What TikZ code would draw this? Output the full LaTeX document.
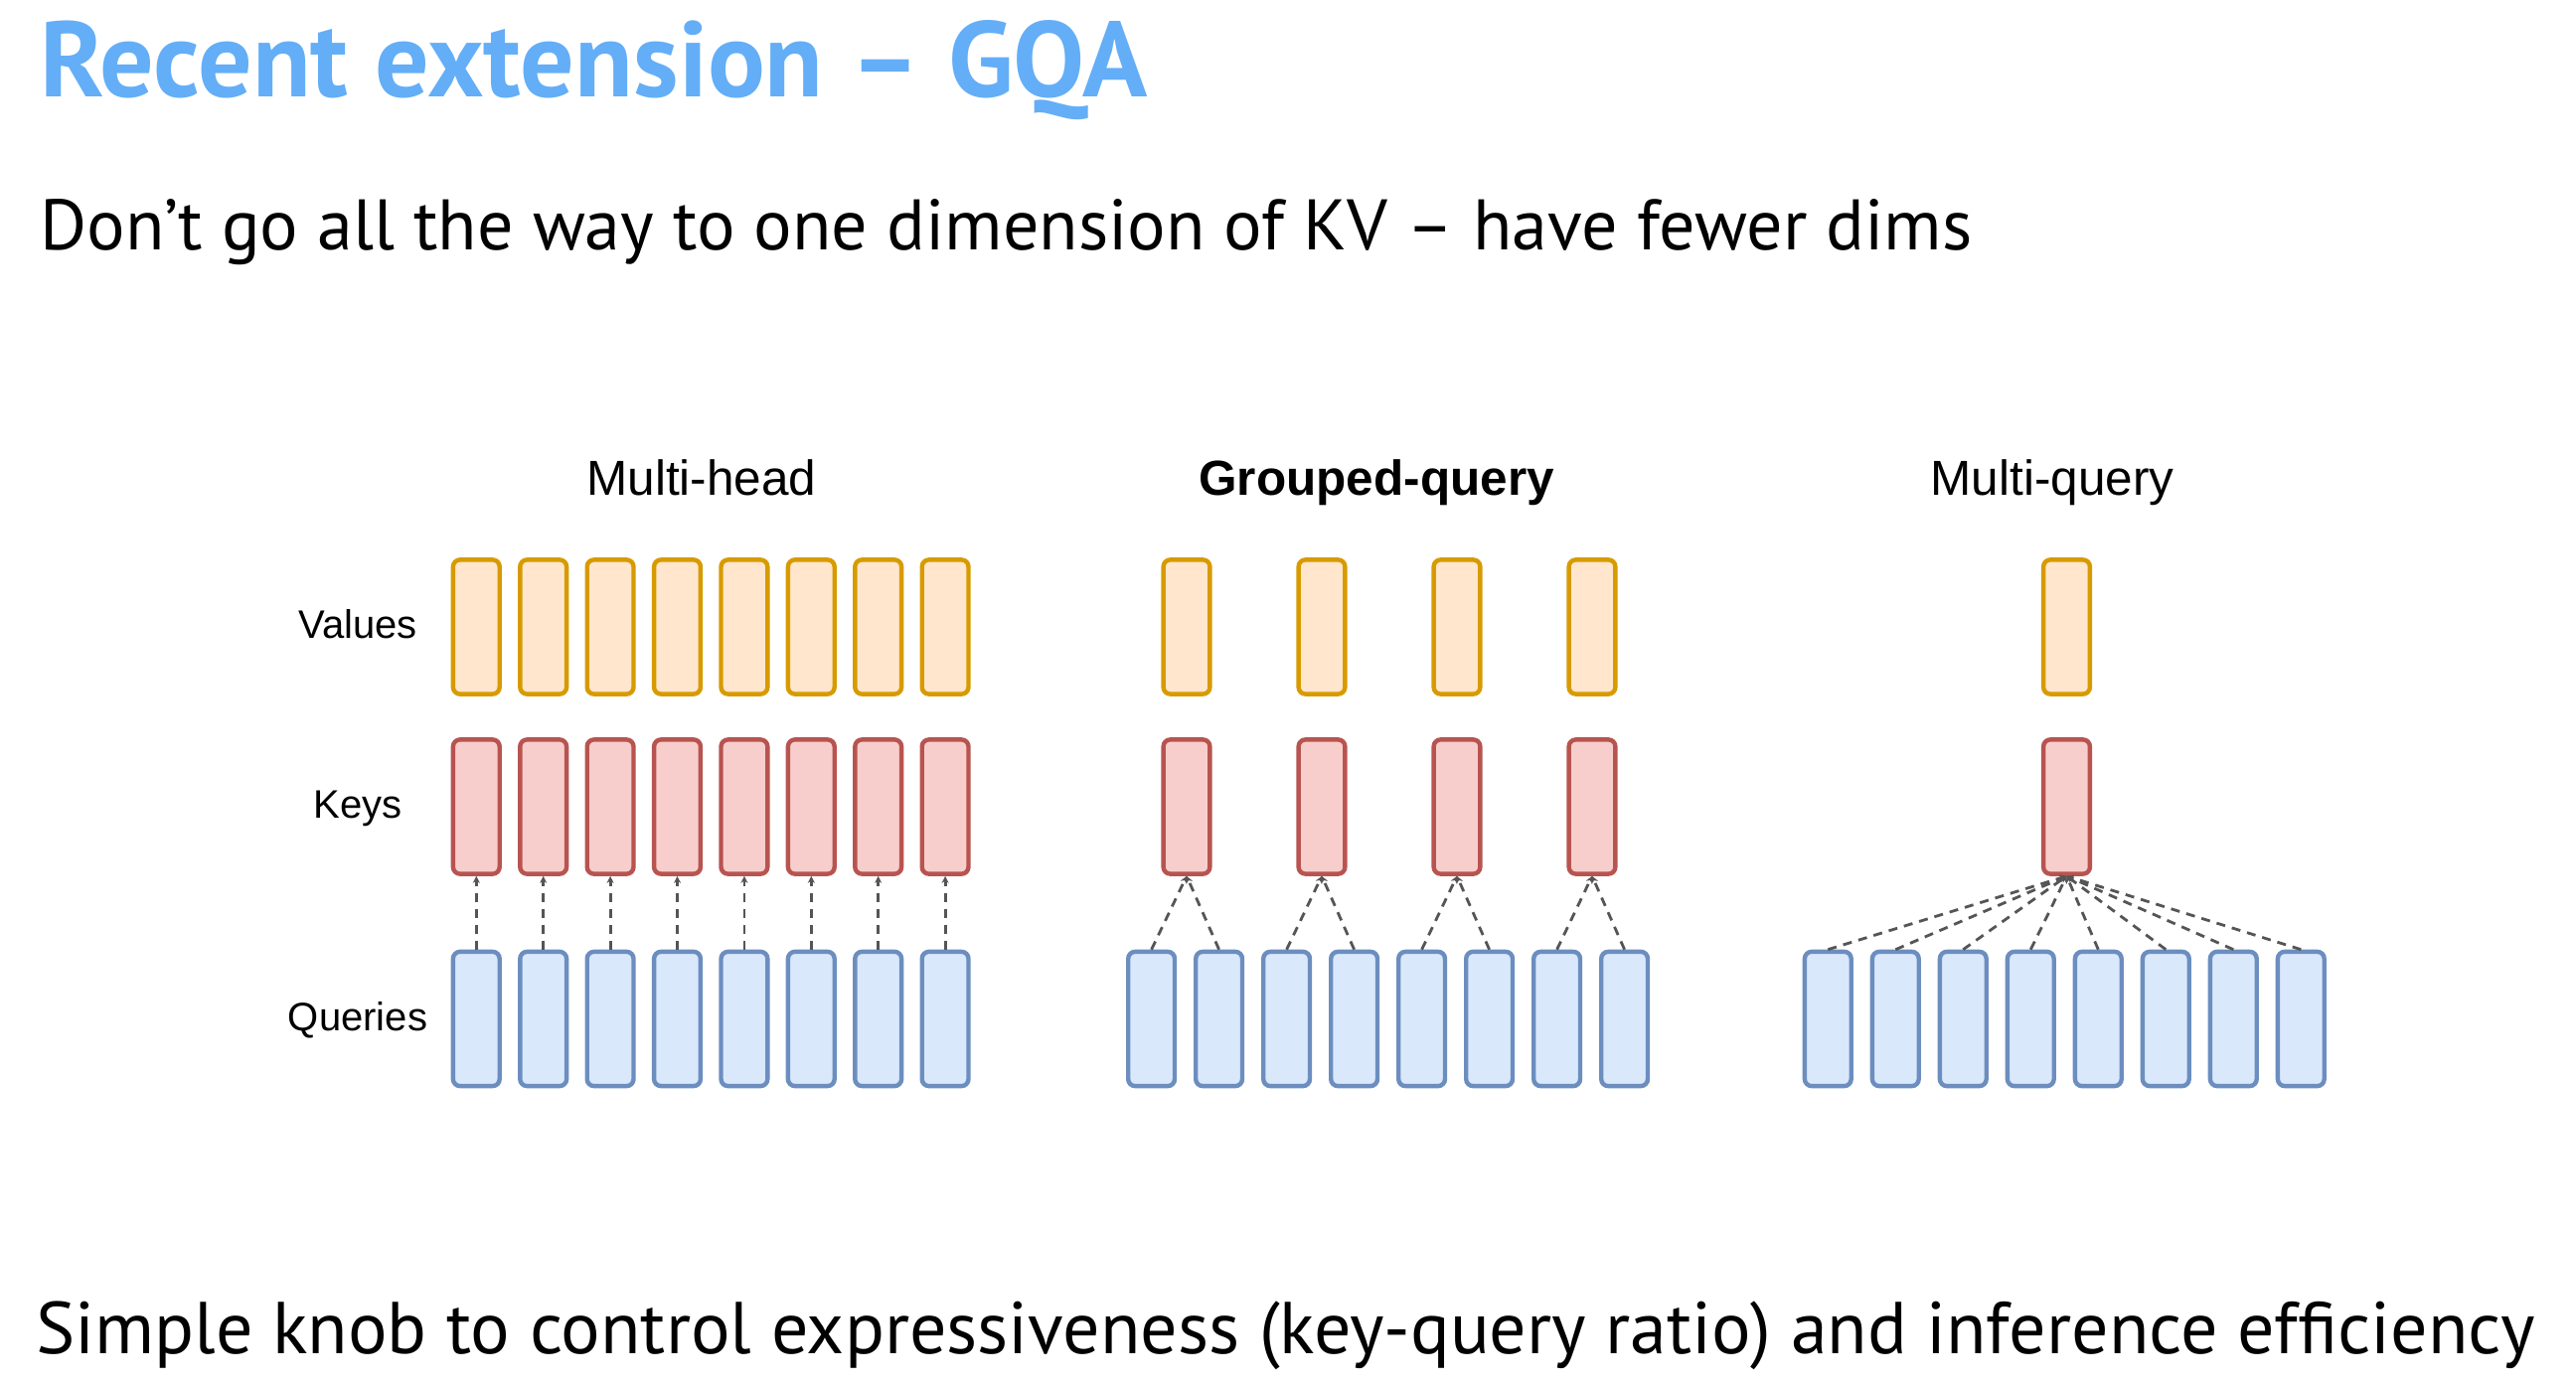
\documentclass[tikz,border=0pt]{standalone}
\usepackage{fontspec}
\usepackage{graphicx}
\setmainfont{PT Sans}
\newfontfamily\slidefont{PT Sans}
\newfontfamily\diagfont{Liberation Sans}
\usetikzlibrary{arrows.meta}
\definecolor{titleblue}{RGB}{99,174,247}
\definecolor{vfill}{HTML}{FFE6CC}
\definecolor{vdraw}{HTML}{D79B00}
\definecolor{kfill}{HTML}{F8CECC}
\definecolor{kdraw}{HTML}{B85450}
\definecolor{qfill}{HTML}{DAE8FC}
\definecolor{qdraw}{HTML}{6C8EBF}
\definecolor{linkgray}{HTML}{555555}
\tikzset{
  cell/.style={rectangle, rounded corners=3.5pt, line width=2.2pt, inner sep=0pt,
    minimum width=23.4pt, minimum height=67.6pt},
  vbox/.style={cell, draw=vdraw, fill=vfill},
  kbox/.style={cell, draw=kdraw, fill=kfill},
  qbox/.style={cell, draw=qdraw, fill=qfill},
  link/.style={draw=linkgray, line width=1.4pt, dash pattern=on 4.5pt off 3.5pt,
    -{Stealth[length=3.5pt,width=3.5pt]}},
  rowlabel/.style={font=\diagfont\fontsize{20}{24}\selectfont, text=black, inner sep=0pt, anchor=base},
  headlabel/.style={font=\diagfont\fontsize{24.75}{30}\selectfont, text=black, inner sep=0pt, anchor=base},
  slidetext/.style={inner sep=0pt, anchor=base west}
}
\begin{document}
\begin{tikzpicture}[x=0.5pt,y=-0.5pt]
\useasboundingbox[fill=white] (0,0) rectangle (2592,1392);
% texts
\node[slidetext, text=titleblue] (title) at (40,97)
  {\resizebox{557pt}{!}{\slidefont\bfseries\fontsize{52}{60}\selectfont Recent extension – GQA}};
\node[slidetext] (sub) at (40,251)
  {\resizebox{972pt}{!}{\slidefont\fontsize{35}{42}\selectfont Don’t go all the way to one dimension of KV – have fewer dims}};
\node[slidetext] (bottom) at (36,1362)
  {\resizebox{1257pt}{!}{\slidefont\fontsize{34.5}{42}\selectfont Simple knob to control expressiveness (key-query ratio) and inference efficiency}};
% headings
\node[headlabel] (hmh) at (706,498) {Multi-head};
\node[headlabel] (hgq) at (1385,498) {\bfseries Grouped-query};
\node[headlabel] (hmq) at (2065,498) {Multi-query};
% row labels
\node[rowlabel] (lv) at (360,642) {Values};
\node[rowlabel] (lk) at (360,823) {Keys};
\node[rowlabel] (lq) at (360,1037) {Queries};
% multi-head
\foreach \i in {0,...,7}{
  \pgfmathsetmacro{\cx}{479.3+67.4*\i}
  \node[vbox] (mhv\i) at (\cx,631) {};
  \node[kbox] (mhk\i) at (\cx,812) {};
  \node[qbox] (mhq\i) at (\cx,1025.5) {};
  \draw[link] (mhq\i.north) -- (mhk\i.south);
}
% grouped-query
\foreach \k in {0,...,3}{
  \pgfmathsetmacro{\cx}{1194+136*\k}
  \node[vbox] (gqv\k) at (\cx,631) {};
  \node[kbox] (gqk\k) at (\cx,812) {};
}
\foreach \j in {0,...,7}{
  \pgfmathsetmacro{\cx}{1158.6+68*\j}
  \pgfmathtruncatemacro{\g}{int(\j/2)}
  \node[qbox] (gqq\j) at (\cx,1025.5) {};
  \draw[link] (gqq\j.north) -- (gqk\g.south);
}
% multi-query
\node[vbox] (mqv) at (2079.5,631) {};
\node[kbox] (mqk) at (2079.5,812) {};
\foreach \j in {0,...,7}{
  \pgfmathsetmacro{\cx}{1839.3+68*\j}
  \node[qbox] (mqq\j) at (\cx,1025.5) {};
  \draw[link] (mqq\j.north) -- (mqk.south);
}
\end{tikzpicture}
\end{document}
